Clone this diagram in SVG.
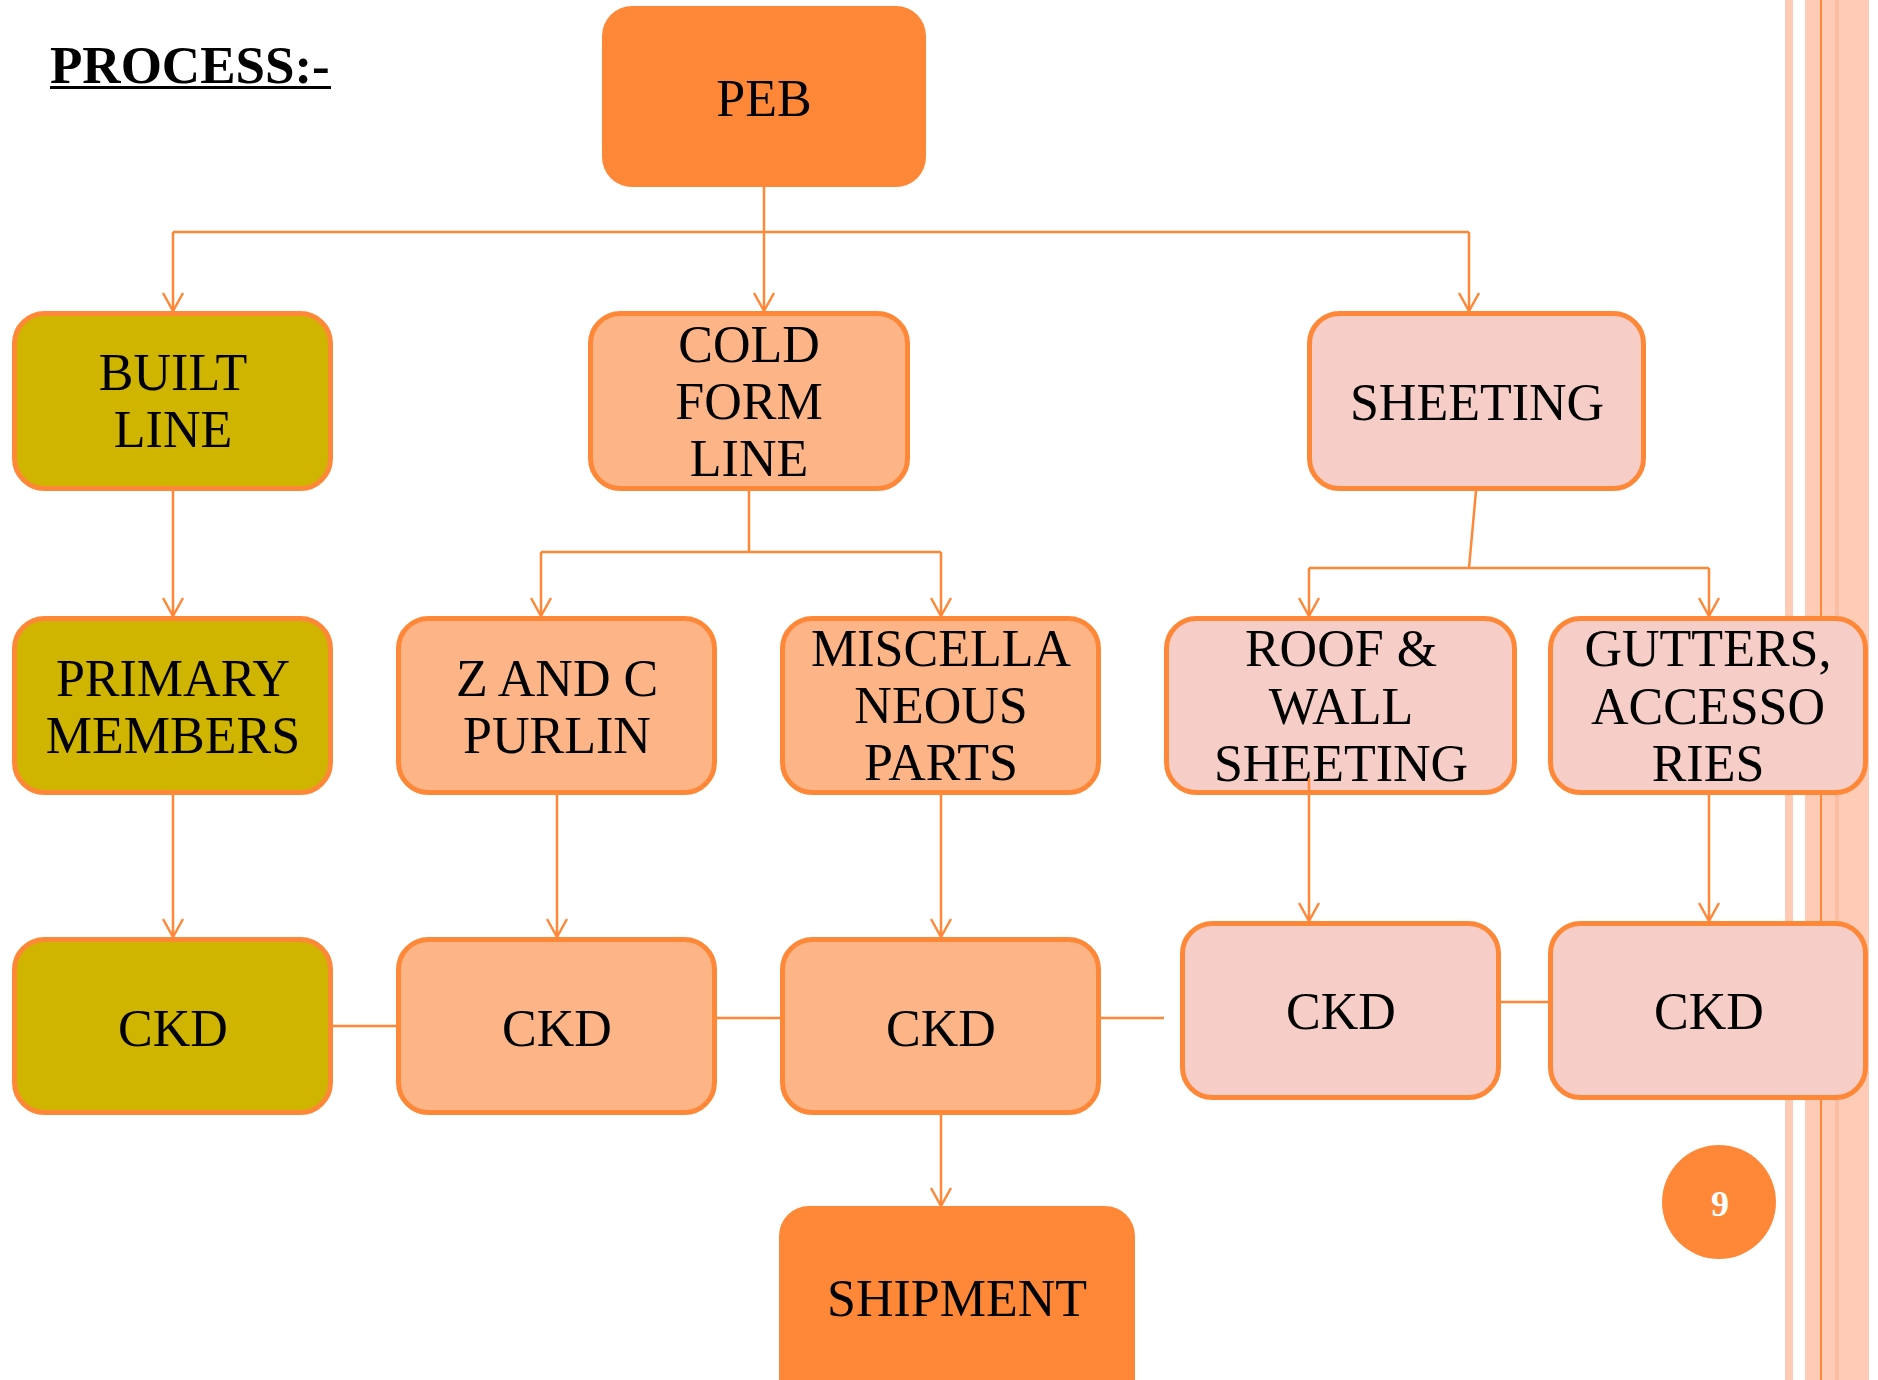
<svg xmlns="http://www.w3.org/2000/svg" width="1878" height="1380" viewBox="0 0 1878 1380">
  <defs>
    <marker id="arr" markerUnits="userSpaceOnUse" markerWidth="24" markerHeight="24" refX="18" refY="0" orient="auto" overflow="visible">
      <path d="M0,-10 L18,0 L0,10" fill="none" stroke="#FF8838" stroke-width="2.5"/>
    </marker>
  </defs>
  <style>
    .t { font-family: "Liberation Serif", "DejaVu Serif", serif; font-size: 52px; fill: #000; text-anchor: middle; }
    .box { stroke: #FF8838; stroke-width: 5; }
    .olive { fill: #CFB500; }
    .peach { fill: #FDB487; }
    .pink { fill: #F6CDC7; }
    .solid { fill: #FF8838; }
    .c { fill: none; stroke: #FF8838; stroke-width: 2.5; }
    .ca { fill: none; stroke: #FF8838; stroke-width: 2.5; marker-end: url(#arr); }
  </style>
  <rect width="1878" height="1380" fill="#FFFFFF"/>

  <!-- right decorative stripes -->
  <g id="stripes">
    <rect x="1785" y="0" width="8" height="1380" fill="#FDCBB6"/>
    <rect x="1805" y="0" width="64" height="1380" fill="#FDCBB6"/>
    <rect x="1835" y="0" width="4" height="1380" fill="#FBBEA3"/>
    <rect x="1820" y="0" width="2" height="1380" fill="#FF8838"/>
  </g>

  <g id="title">
    <text x="50" y="83" font-family="Liberation Serif, DejaVu Serif, serif" font-size="53" font-weight="bold" fill="#000">PROCESS:-</text>
    <rect x="50" y="86" width="281" height="3" fill="#000"/>
  </g>

  <g id="connectors">
    <path class="c" d="M764,187 V232"/>
    <path class="c" d="M173,232 H1469"/>
    <path class="ca" d="M173,232 V311"/>
    <path class="ca" d="M764,232 V311"/>
    <path class="ca" d="M1469,232 V311"/>
    <path class="ca" d="M173,491 V616"/>
    <path class="c" d="M749,491 V552"/>
    <path class="c" d="M541,552 H941"/>
    <path class="ca" d="M541,552 V616"/>
    <path class="ca" d="M941,552 V616"/>
    <path class="c" d="M1476,491 L1469,568"/>
    <path class="c" d="M1309,568 H1709"/>
    <path class="ca" d="M1309,568 V616"/>
    <path class="ca" d="M1709,568 V616"/>
    <path class="ca" d="M173,795 V937"/>
    <path class="ca" d="M557,795 V937"/>
    <path class="ca" d="M941,795 V937"/>
    <path class="ca" d="M1709,795 V921"/>
    <path class="ca" d="M941,1115 V1206"/>
    <path class="c" d="M333,1026 H396"/>
    <path class="c" d="M717,1018 H780"/>
    <path class="c" d="M1101,1018 H1164"/>
    <path class="c" d="M1501,1002 H1548"/>
  </g>

  <g id="peb">
    <rect class="solid" x="602" y="6" width="324" height="181" rx="30" ry="30"/>
    <text class="t" x="764" y="116">PEB</text>
  </g>

  <g id="built-line">
    <rect class="box olive" x="14.5" y="313.5" width="316" height="175" rx="30" ry="30"/>
    <text class="t" x="173" y="390">BUILT</text>
    <text class="t" x="173" y="447">LINE</text>
  </g>

  <g id="cold-form-line">
    <rect class="box peach" x="590.5" y="313.5" width="317" height="175" rx="30" ry="30"/>
    <text class="t" x="749" y="362">COLD</text>
    <text class="t" x="749" y="419">FORM</text>
    <text class="t" x="749" y="476">LINE</text>
  </g>

  <g id="sheeting">
    <rect class="box pink" x="1309.5" y="313.5" width="334" height="175" rx="30" ry="30"/>
    <text class="t" x="1477" y="420">SHEETING</text>
  </g>

  <g id="primary-members">
    <rect class="box olive" x="14.5" y="618.5" width="316" height="174" rx="30" ry="30"/>
    <text class="t" x="173" y="696">PRIMARY</text>
    <text class="t" x="173" y="753">MEMBERS</text>
  </g>

  <g id="z-and-c-purlin">
    <rect class="box peach" x="398.5" y="618.5" width="316" height="174" rx="30" ry="30"/>
    <text class="t" x="557" y="696">Z AND C</text>
    <text class="t" x="557" y="753">PURLIN</text>
  </g>

  <g id="miscellaneous-parts">
    <rect class="box peach" x="782.5" y="618.5" width="316" height="174" rx="30" ry="30"/>
    <text class="t" x="941" y="666">MISCELLA</text>
    <text class="t" x="941" y="723">NEOUS</text>
    <text class="t" x="941" y="780">PARTS</text>
  </g>

  <g id="roof-wall-sheeting">
    <rect class="box pink" x="1166.5" y="618.5" width="348" height="174" rx="30" ry="30"/>
    <text class="t" x="1341" y="666">ROOF &amp;</text>
    <text class="t" x="1341" y="724">WALL</text>
    <text class="t" x="1341" y="781">SHEETING</text>
  </g>
  <path class="ca" d="M1309,778 V921"/>

  <g id="gutters-accessories">
    <rect class="box pink" x="1550.5" y="618.5" width="315" height="174" rx="30" ry="30"/>
    <text class="t" x="1708" y="666">GUTTERS,</text>
    <text class="t" x="1708" y="724">ACCESSO</text>
    <text class="t" x="1708" y="781">RIES</text>
  </g>

  <g id="ckd-1">
    <rect class="box olive" x="14.5" y="939.5" width="316" height="173" rx="30" ry="30"/>
    <text class="t" x="173" y="1046">CKD</text>
  </g>
  <g id="ckd-2">
    <rect class="box peach" x="398.5" y="939.5" width="316" height="173" rx="30" ry="30"/>
    <text class="t" x="557" y="1046">CKD</text>
  </g>
  <g id="ckd-3">
    <rect class="box peach" x="782.5" y="939.5" width="316" height="173" rx="30" ry="30"/>
    <text class="t" x="941" y="1046">CKD</text>
  </g>
  <g id="ckd-4">
    <rect class="box pink" x="1182.5" y="923.5" width="316" height="174" rx="30" ry="30"/>
    <text class="t" x="1341" y="1029">CKD</text>
  </g>
  <g id="ckd-5">
    <rect class="box pink" x="1550.5" y="923.5" width="315" height="174" rx="30" ry="30"/>
    <text class="t" x="1709" y="1029">CKD</text>
  </g>

  <g id="shipment">
    <rect class="solid" x="779" y="1206" width="356" height="220" rx="30" ry="30"/>
    <text class="t" x="957" y="1316">SHIPMENT</text>
  </g>

  <g id="page-number">
    <circle cx="1719" cy="1202" r="57" fill="#FF8838"/>
    <text x="1720" y="1216" font-family="Liberation Serif, DejaVu Serif, serif" font-size="36" font-weight="bold" fill="#FFFFFF" text-anchor="middle">9</text>
  </g>
</svg>
